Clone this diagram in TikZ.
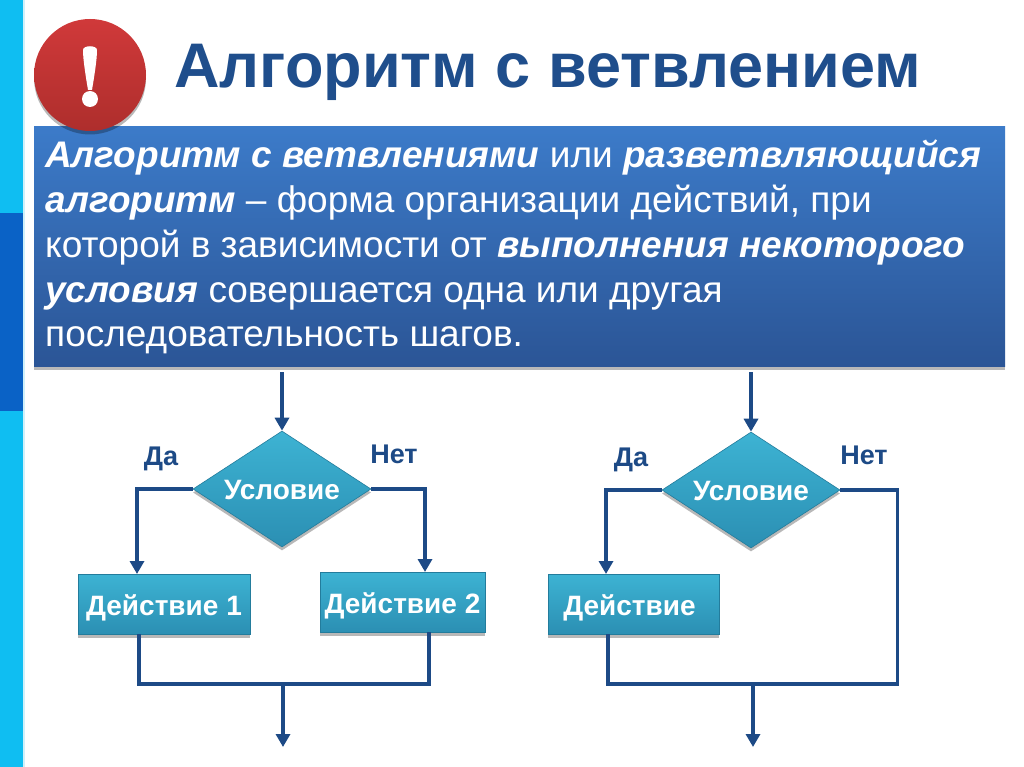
\documentclass[tikz,border=0pt]{standalone}
\usepackage{fontspec}
\setmainfont{Liberation Sans}
\usetikzlibrary{shapes.geometric,shadows,arrows.meta,positioning}
\definecolor{linecol}{HTML}{1D4A86}
\definecolor{titlecol}{HTML}{1F4E8C}
\definecolor{barcyan}{HTML}{0FBEF2}
\definecolor{barblue}{HTML}{0A62C6}
\definecolor{barlight}{HTML}{CFF0FA}
\definecolor{boxtop}{HTML}{3C7BC9}
\definecolor{boxbot}{HTML}{2B5596}
\definecolor{shapetop}{HTML}{3DB3D3}
\definecolor{shapebot}{HTML}{2B8FB3}
\definecolor{shapeedge}{HTML}{237C9C}
\definecolor{redtop}{HTML}{D0393A}
\definecolor{redbot}{HTML}{AE2E2C}
\tikzset{
  softshadow/.style={drop shadow={shadow xshift=0pt,shadow yshift=-3.5pt,fill=black,opacity=.28}},
  cond/.style={diamond,aspect=1.534,minimum width=178pt,minimum height=116pt,inner sep=0pt,
    top color=shapetop,bottom color=shapebot,draw=shapeedge,line width=.6pt,softshadow,
    text=white,text height=20pt,text depth=0pt,font=\bfseries\fontsize{28}{30}\selectfont},
  act/.style={rectangle,inner sep=0pt,minimum height=60pt,
    top color=shapetop,bottom color=shapebot,draw=shapeedge,line width=1pt,softshadow,
    text=white,text height=22pt,text depth=0pt,font=\bfseries\fontsize{28}{30}\selectfont},
  branchlabel/.style={text=linecol,font=\bfseries\fontsize{27}{30}\selectfont,inner sep=0pt},
  conn/.style={draw=linecol,line width=3.5pt},
  arrowconn/.style={conn,-{Triangle[length=13pt,width=14pt]}},
  bodyline/.style={text=white,anchor=base west,inner sep=0pt,font=\fontsize{37}{40}\selectfont},
}
\newcommand{\bit}[1]{{\bfseries\itshape #1}}
\begin{document}
\begin{tikzpicture}[x=1pt,y=-1pt]
\useasboundingbox (0,0) rectangle (1024,767);
\fill[white] (0,0) rectangle (1024,767);
% side bar
\fill[barlight] (23,0) rectangle (25,767);
\fill[barcyan] (0,0) rectangle (23,767);
\fill[barblue] (0,213) rectangle (23,411);
% blue text panel
\node[rectangle,anchor=north west,minimum width=971pt,minimum height=240pt,inner sep=0pt,
  top color=boxtop,bottom color=boxbot,softshadow] (panel) at (34,126) {};
% red badge
\node[circle,minimum size=112pt,inner sep=0pt,top color=redtop,bottom color=redbot,softshadow] (badge) at (90,75) {};
\fill[white] (83,50) .. controls (83,45) and (97,45) .. (97,50) .. controls (97,60) and (94,78) .. (92,90)
  -- (88,90) .. controls (86,78) and (83,60) .. (83,50) -- cycle;
\fill[white] (90,99) circle (8);
% title
\node[anchor=base west,inner sep=0pt,text=titlecol,font=\bfseries\fontsize{63}{66}\selectfont] (title) at (174,88) {Алгоритм с ветвлением};
% body
\node[bodyline] (l1) at (45,168) {\bit{Алгоритм с ветвлениями} или \bit{разветвляющийся}};
\node[bodyline] (l2) at (45,213) {\bit{алгоритм} – форма организации действий, при};
\node[bodyline] (l3) at (45,258) {которой в зависимости от \bit{выполнения некоторого}};
\node[bodyline] (l4) at (45,302) {\bit{условия} совершается одна или другая};
\node[bodyline] (l5) at (45,346) {последовательность шагов.};
% left flowchart
\coordinate (inA) at (282,372);
\node[cond] (condA) at (282,489) {Условие};
\node[act,minimum width=172pt] (act1) at (164,604) {Действие 1};
\node[act,minimum width=165pt] (act2) at (402.5,602) {Действие 2};
\node[branchlabel] (yesA) at (161,459) {Да};
\node[branchlabel] (noA) at (394,454) {Нет};
\coordinate (joinA) at (283,684);
\coordinate (outA) at (283,747);
\draw[arrowconn] (inA) -- (condA.north);
\draw[arrowconn] (condA.west) -| (137,574);
\draw[arrowconn] (condA.east) -| (425,572);
\draw[conn] (139,634) |- (joinA);
\draw[conn] (429,632) |- (joinA);
\draw[arrowconn] (joinA) -- (outA);
% right flowchart
\coordinate (inB) at (751,372);
\node[cond] (condB) at (751,490) {Условие};
\node[act,minimum width=171pt] (act3) at (633.5,604) {Действие\kern8pt};
\node[branchlabel] (yesB) at (631,460) {Да};
\node[branchlabel] (noB) at (864,455) {Нет};
\coordinate (joinB) at (753,684);
\coordinate (outB) at (753,747);
\draw[arrowconn] (inB) -- (condB.north);
\draw[arrowconn] (condB.west) -| (606,574);
\draw[conn] (condB.east) -| (897.5,684) -- (joinB);
\draw[conn] (608,634) |- (joinB);
\draw[arrowconn] (joinB) -- (outB);
\end{tikzpicture}
\end{document}
